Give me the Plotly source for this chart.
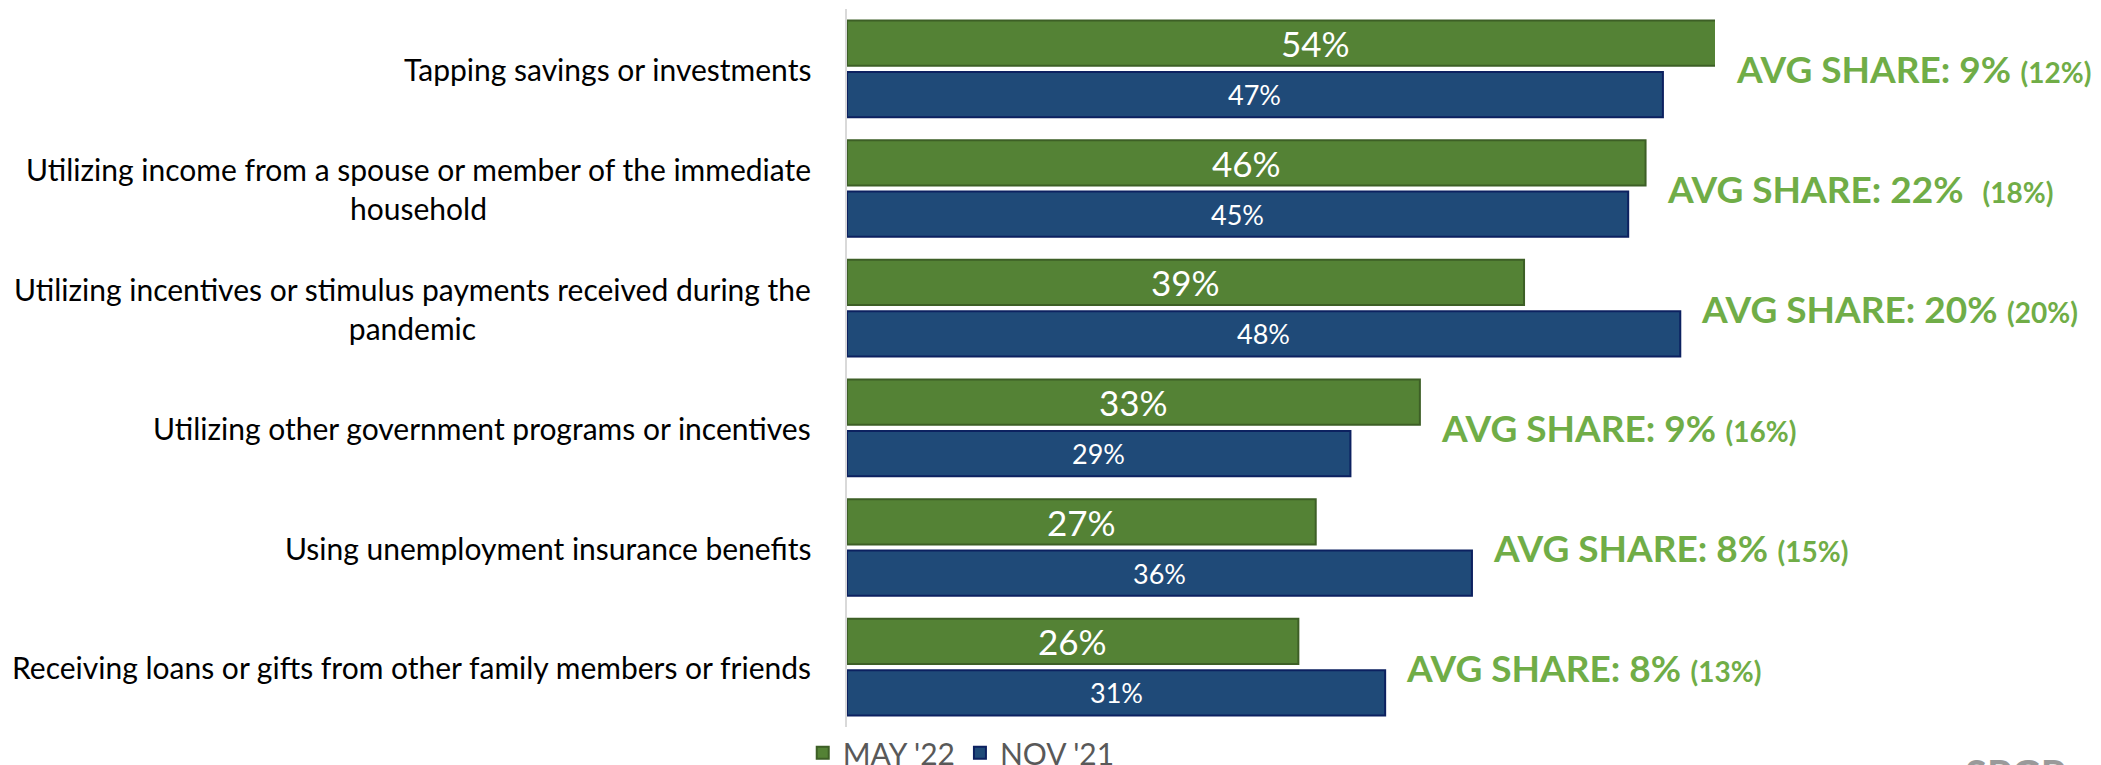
import plotly.graph_objects as go

categories = [
    "Tapping savings or investments",
    "Utilizing income from a spouse or member of the immediate<br>household",
    "Utilizing incentives or stimulus payments received during the<br>pandemic",
    "Utilizing other government programs or incentives",
    "Using unemployment insurance benefits",
    "Receiving loans or gifts from other family members or friends",
]
may22 = [54, 46, 39, 33, 27, 26]
nov21 = [47, 45, 48, 29, 36, 31]
avg_share = [9, 22, 20, 9, 8, 8]
avg_share_prev = [12, 18, 20, 16, 15, 13]
avg_sep = [" ", "  ", " ", " ", " ", " "]
series_names = ["MAY '22", "NOV '21"]
x_max = 50

FONT = "Lato"
GREEN = "#548235"
GREEN_EDGE = "#3d5f26"
BLUE = "#1f4a78"
BLUE_EDGE = "#0c2160"
ACCENT = "#70AD47"

# page body has an 8px margin: the figure is sized to fill the rest of the window
fig = go.Figure()
fig.add_trace(go.Bar(
    y=categories, x=may22, orientation="h", name=series_names[0],
    marker=dict(color=GREEN, line=dict(color=GREEN_EDGE, width=2)),
))
fig.add_trace(go.Bar(
    y=categories, x=nov21, orientation="h", name=series_names[1],
    marker=dict(color=BLUE, line=dict(color=BLUE_EDGE, width=2)),
))

BAR_SHIFT = 25.7  # pixel offset of each bar in its group
annotations = []
for cat, m, n, a, p, s in zip(categories, may22, nov21, avg_share, avg_share_prev, avg_sep):
    # bar value labels, centred on each bar's full length
    annotations.append(dict(
        x=(m / 2) / x_max, y=cat, xref="paper", yref="y", yshift=BAR_SHIFT,
        xanchor="center", yanchor="middle", text=f"{m}%", showarrow=False,
        font=dict(family=FONT, size=35, color="white"),
    ))
    annotations.append(dict(
        x=(n / 2) / x_max, y=cat, xref="paper", yref="y", yshift=-BAR_SHIFT,
        xanchor="center", yanchor="middle", text=f"{n}%", showarrow=False,
        font=dict(family=FONT, size=27, color="white"),
    ))
    # average-share callouts
    xpos = (min(max(m, n), x_max) + 1.1) / x_max
    annotations.append(dict(
        x=xpos, y=cat, xref="paper", yref="y", xanchor="left", yanchor="middle",
        text=f"<b>AVG SHARE: {a}%</b>{s}<b><span style='font-size:28px'>({p}%)</span></b>",
        showarrow=False, font=dict(family=FONT, size=37, color=ACCENT),
    ))
    # category labels (centred lines, right-aligned block)
    annotations.append(dict(
        x=0, y=cat, xref="paper", yref="y", xanchor="right", yanchor="middle",
        xshift=-34, align="center", text=cat, showarrow=False,
        font=dict(family=FONT, size=30, color="#000000"),
    ))

annotations.append(dict(
    x=1.0, y=-0.029, xref="paper", yref="paper", xanchor="left", yanchor="top",
    xshift=248, text="<b>SPGP</b>", showarrow=False,
    font=dict(family=FONT, size=40, color="#9a9a9a"),
))

fig.update_layout(
    width=2093, height=757,
    margin=dict(l=839, r=386, t=1, b=38, autoexpand=False),
    paper_bgcolor="white", plot_bgcolor="white",
    barmode="group", bargap=0.14, bargroupgap=0.12,
    font=dict(family=FONT),
    xaxis=dict(range=[0, x_max], visible=False, showgrid=False, zeroline=False),
    yaxis=dict(autorange="reversed", showticklabels=False, ticks="",
               showline=True, linecolor="#d9d9d9", linewidth=2,
               showgrid=False, zeroline=False),
    legend=dict(orientation="h", x=-0.051, xanchor="left", y=-0.036, yanchor="middle",
                font=dict(family=FONT, size=30, color="#595959"),
                bgcolor="rgba(0,0,0,0)"),
    annotations=annotations,
    showlegend=True,
)

fig.write_html("out.html")
